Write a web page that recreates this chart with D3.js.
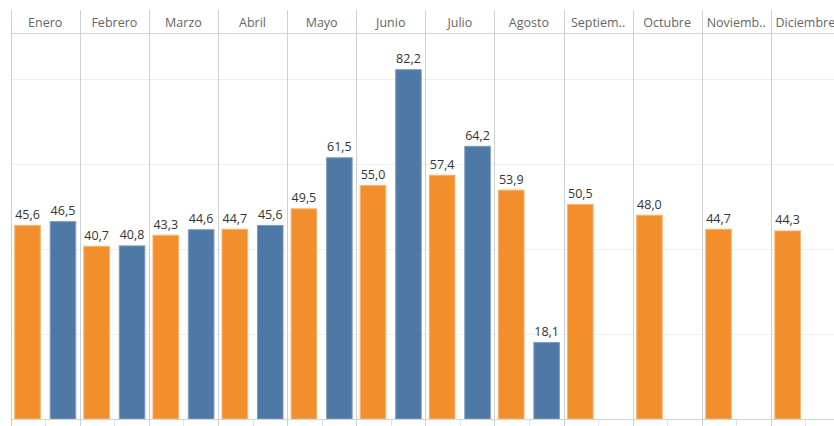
<!DOCTYPE html>
<html>
<head>
<meta charset="utf-8">
<script src="https://cdn.jsdelivr.net/npm/d3@7"></script>
<style>
  html, body { margin: 0; padding: 0; background: #fff; }
  svg { display: block; }
  text { font-family: "Open Sans", "Noto Sans", sans-serif; }
</style>
</head>
<body>
<svg id="chart" width="834" height="426"></svg>
<script>
// Monthly values for two years, one pair of bars per month
const months = ["Enero", "Febrero", "Marzo", "Abril", "Mayo", "Junio",
                "Julio", "Agosto", "Septiem..", "Octubre", "Noviemb..", "Diciembre"];
const seriesA = [45.6, 40.7, 43.3, 44.7, 49.5, 55.0, 57.4, 53.9, 50.5, 48.0, 44.7, 44.3];
const seriesB = [46.5, 40.8, 44.6, 45.6, 61.5, 82.2, 64.2, 18.1, null, null, null, null];
const gridValues = [0, 20, 40, 60, 80];
const seriesKeys = ["a", "b"];
const colors = { a: "#F28E2B", b: "#4E79A7" };
const strokes = { a: "#F7B36E", b: "#7D9EC2" };

const W = 834, H = 426;
const left = 10.7, colW = 69.1;
const headerTop = 10, headerBottom = 33, baseline = 419;

const svg = d3.select("#chart");

const x = d3.scaleBand()
  .domain(months)
  .range([left, left + colW * months.length])
  .paddingInner(0).paddingOuter(0);

const xSub = d3.scaleBand()
  .domain(seriesKeys)
  .range([0, colW])
  .paddingInner(0.25)
  .paddingOuter(0.1);

const y = d3.scaleLinear().domain([0, 90.7]).range([baseline, headerBottom]);

const fmt = v => d3.format(".1f")(v).replace(".", ",");

// Horizontal gridlines
svg.append("g").selectAll("line")
  .data(gridValues.filter(v => v > 0))
  .join("line")
  .attr("x1", left).attr("x2", W)
  .attr("y1", d => Math.round(y(d)) + 0.5).attr("y2", d => Math.round(y(d)) + 0.5)
  .attr("stroke", "#efefef").attr("stroke-width", 1);

// Small ticks under the baseline at each column centre
svg.append("g").selectAll("line")
  .data(months)
  .join("line")
  .attr("x1", d => Math.round(x(d) + colW / 2) + 0.5)
  .attr("x2", d => Math.round(x(d) + colW / 2) + 0.5)
  .attr("y1", baseline).attr("y2", H)
  .attr("stroke", "#e4e4e4");

// Bars
const groups = svg.append("g").selectAll("g")
  .data(months.map((m, i) => ({ month: m, a: seriesA[i], b: seriesB[i] })))
  .join("g")
  .attr("transform", d => `translate(${x(d.month)},0)`);

groups.selectAll("rect")
  .data(d => seriesKeys.filter(k => d[k] != null).map(k => ({ key: k, value: d[k] })))
  .join("rect")
  .attr("x", d => xSub(d.key) + 0.5)
  .attr("width", xSub.bandwidth() - 1)
  .attr("y", d => y(d.value) + 0.5)
  .attr("height", d => baseline - y(d.value) - 0.5)
  .attr("fill", d => colors[d.key])
  .attr("stroke", d => strokes[d.key])
  .attr("stroke-width", 1);

groups.selectAll("text.val")
  .data(d => seriesKeys.filter(k => d[k] != null).map(k => ({ key: k, value: d[k] })))
  .join("text")
  .attr("class", "val")
  .attr("x", d => xSub(d.key) + xSub.bandwidth() / 2)
  .attr("y", d => y(d.value) - 6)
  .attr("text-anchor", "middle")
  .attr("font-size", "12.5px")
  .attr("fill", "#333")
  .text(d => fmt(d.value));

// Baseline
svg.append("line")
  .attr("x1", left).attr("x2", W)
  .attr("y1", baseline + 0.5).attr("y2", baseline + 0.5)
  .attr("stroke", "#d4d4d4");

// Header row line
svg.append("line")
  .attr("x1", left).attr("x2", W)
  .attr("y1", headerBottom + 0.5).attr("y2", headerBottom + 0.5)
  .attr("stroke", "#d4d4d4");

// Column dividers
svg.append("g").selectAll("line")
  .data(months)
  .join("line")
  .attr("x1", d => Math.round(x(d)) + 0.5)
  .attr("x2", d => Math.round(x(d)) + 0.5)
  .attr("y1", headerTop).attr("y2", H)
  .attr("stroke", "#cfcfcf");

// Month headers
svg.append("g").selectAll("text")
  .data(months)
  .join("text")
  .attr("x", d => x(d) + colW / 2)
  .attr("y", 27)
  .attr("text-anchor", "middle")
  .attr("font-size", "12.5px")
  .attr("fill", "#666")
  .text(d => d);
</script>
</body>
</html>
